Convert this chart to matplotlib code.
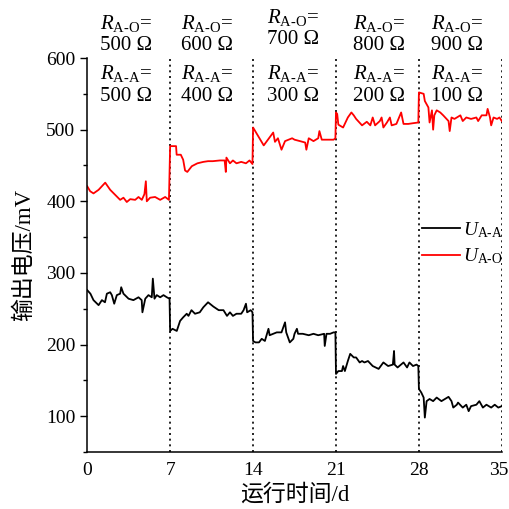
import numpy as np
import matplotlib
matplotlib.use('Agg')
import matplotlib.pyplot as plt
import matplotlib.transforms as mtransforms
from matplotlib.ticker import MultipleLocator

plt.rcParams['font.family'] = ['Liberation Serif', 'Noto Sans CJK SC']
plt.rcParams['mathtext.fontset'] = 'custom'
plt.rcParams['mathtext.rm'] = 'Liberation Serif'
plt.rcParams['mathtext.it'] = 'Liberation Serif:italic'
plt.rcParams['font.size'] = 14

# data (day, mV)
dayAO = [0, 0.25, 0.53, 0.96, 1.52, 1.94, 2.36, 2.78, 3.06, 3.34, 3.63, 4.05, 4.33, 4.61, 4.83, 4.95, 5.03, 5.31, 5.73, 6.16, 6.58, 6.9,
         7.0, 7.5, 7.55, 7.9, 8.1, 8.26, 8.45, 8.83, 9.3, 9.8, 10.2, 10.6, 11.2, 11.6, 11.7, 11.75, 12.05, 12.3, 12.6, 13.0, 13.4, 13.7, 13.95,
         14.0, 14.9, 15.7, 15.85, 16.1, 16.4, 16.7, 17.3, 17.5, 17.96, 18.4, 18.5, 18.7, 19.1, 19.5, 19.6, 19.8, 20.2, 20.8, 20.95,
         21.0, 21.1, 21.2, 21.6, 22.0, 22.3, 22.5, 22.7, 23.2, 23.6, 23.9, 24.1, 24.3, 24.7, 24.85, 25.0, 25.3, 25.55, 25.7, 26.1, 26.5, 26.7, 27.1, 27.5, 27.95,
         28.0, 28.4, 28.5, 28.8, 28.9, 29.1, 29.2, 29.3, 29.5, 29.8, 30.05, 30.5, 30.6, 30.75, 31.0, 31.5, 31.7, 32.0, 32.4, 32.85, 33.0, 33.3, 33.7, 33.8, 34.0, 34.1, 34.3, 34.6, 34.8, 35.0]
uAO = [421, 414, 411, 416, 426, 416, 409, 402, 405, 399, 403, 402, 406, 402, 410, 428, 400, 405, 406, 402, 406, 402,
       477, 477, 465, 465, 458, 443, 441, 449, 453, 455, 456, 456, 457, 457, 441, 461, 453, 457, 453, 455, 453, 457, 452,
       503, 478, 496, 483, 488, 472, 484, 488, 486, 484, 482, 472, 488, 484, 488, 498, 486, 486, 486, 488,
       524, 522, 507, 503, 517, 524, 520, 515, 506, 511, 506, 517, 506, 512, 517, 503, 510, 517, 506, 508, 524, 508, 508, 509, 510,
       552, 550, 540, 531, 510, 527, 500, 520, 527, 524, 520, 512, 498, 517, 515, 520, 512, 517, 515, 517, 512, 520, 520, 529, 517, 506, 517, 515, 517, 512]

dayAA = [0, 0.27, 0.53, 0.96, 1.24, 1.5, 1.66, 1.94, 2.08, 2.28, 2.5, 2.78, 2.87, 3.06, 3.49, 3.9, 4.33, 4.6, 4.66, 4.9, 5.17, 5.45, 5.54, 5.68, 5.87, 6.16, 6.44, 6.72, 6.95,
         7.0, 7.2, 7.56, 7.84, 8.1, 8.4, 8.55, 8.8, 9.1, 9.5, 9.8, 10.2, 10.65, 11.1, 11.5, 11.8, 12.05, 12.3, 12.6, 13.0, 13.2, 13.4, 13.5, 13.8, 13.95,
         14.0, 14.2, 14.5, 14.73, 15.0, 15.3, 15.4, 15.7, 16.0, 16.4, 16.7, 16.8, 17.1, 17.4, 17.5, 17.7, 17.8, 18.2, 18.7, 19.1, 19.5, 20.0, 20.05, 20.2, 20.5, 20.8, 20.95,
         21.0, 21.2, 21.5, 21.6, 21.75, 22.0, 22.2, 22.5, 22.7, 23.0, 23.2, 23.4, 23.7, 24.1, 24.6, 25.0, 25.4, 25.8, 25.9, 25.95, 26.2, 26.7, 27.0, 27.2, 27.5, 27.8, 27.95,
         28.0, 28.2, 28.4, 28.5, 28.65, 28.9, 29.2, 29.5, 29.9, 30.5, 30.75, 30.9, 31.2, 31.3, 31.7, 32.0, 32.2, 32.4, 32.85, 33.1, 33.4, 33.7, 34.1, 34.4, 34.7, 35.0]
uAA = [276, 271, 262, 255, 262, 259, 271, 273, 269, 257, 269, 271, 280, 271, 264, 262, 266, 262, 245, 264, 269, 266, 292, 264, 269, 266, 269, 266, 264,
       219, 222, 219, 233, 238, 243, 240, 248, 243, 245, 252, 259, 253, 248, 248, 240, 245, 240, 243, 243, 248, 257, 245, 248, 245,
       205, 203, 203, 208, 205, 222, 213, 215, 217, 217, 231, 217, 203, 208, 215, 222, 215, 215, 213, 215, 213, 215, 198, 215, 215, 217, 217,
       159, 163, 163, 170, 163, 177, 187, 182, 182, 175, 177, 175, 177, 170, 166, 175, 170, 172, 191, 172, 168, 175, 168, 175, 170, 172, 170,
       138, 133, 126, 98, 121, 124, 121, 126, 121, 127, 121, 112, 116, 119, 112, 116, 107, 114, 116, 121, 112, 116, 112, 116, 112, 114]

stageEnds = [7, 14, 21, 28, 35]
rAO = [500, 600, 700, 800, 900]
rAA = [500, 400, 300, 200, 100]

fig = plt.figure(figsize=(5.1, 5.09), dpi=100)
ax = fig.add_axes([0.171, 0.112, 0.813, 0.774])

ax.plot(dayAA, uAA, color='black', lw=1.3, label=r'$U_{\text{A-A}}$')
ax.plot(dayAO, uAO, color='red', lw=1.3, label=r'$U_{\text{A-O}}$')

for d in stageEnds:
    ax.axvline(d, color='black', ls=(0, (1.2, 2.2)), lw=1.2, zorder=0)

# resistance labels, one block per stage
xOff = [1.1, 0.9, 1.2, 1.4, 1.0]
for i in range(5):
    x0 = stageEnds[i] - 7 + xOff[i]
    yTop = 657 if i == 2 else 648
    ax.text(x0, yTop, r'$R_{\text{A-O}}$=', ha='left', va='center', fontsize=15, clip_on=False)
    ax.text(x0, yTop - 31, '%d Ω' % rAO[i], ha='left', va='center', fontsize=15, clip_on=False)
    ax.text(x0, 579, r'$R_{\text{A-A}}$=', ha='left', va='center', fontsize=15)
    ax.text(x0, 546, '%d Ω' % rAA[i], ha='left', va='center', fontsize=15)

ax.set_xlim(0, 35)
ax.set_ylim(50, 600)
ax.set_xticks([0] + stageEnds)
ax.yaxis.set_minor_locator(MultipleLocator(50))
ax.set_yticks([100, 200, 300, 400, 500, 600])
ax.tick_params(axis='x', length=0, pad=7)
ax.tick_params(axis='y', which='major', length=5, width=1, direction='out')
ax.tick_params(axis='y', which='minor', length=3, width=1, direction='out')
ax.spines['top'].set_visible(False)
ax.spines['right'].set_visible(False)
ax.spines['left'].set_linewidth(1.1)
ax.spines['bottom'].set_linewidth(1.1)

# keep the last x label inside the figure edge
lastLab = ax.get_xticklabels()[-1]
lastLab.set_transform(lastLab.get_transform() +
                      mtransforms.ScaledTranslation(-3 / 100, 0, fig.dpi_scale_trans))

ax.set_xlabel('运行时间/d', fontsize=16.5, labelpad=4)
ax.set_ylabel('输出电压/mV', fontsize=16.5, labelpad=8)

ax.legend(loc='center left', bbox_to_anchor=(0.807, 0.53), frameon=False,
          borderpad=0, borderaxespad=0,
          handlelength=1.95, handletextpad=0.15, labelspacing=0.35, fontsize=14)

fig.savefig('out.png', dpi=100)
